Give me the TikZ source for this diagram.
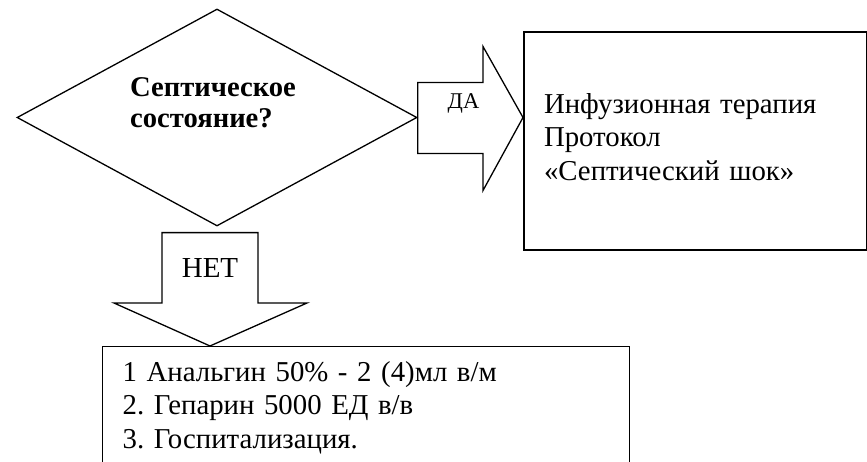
\documentclass[tikz,border=0pt]{standalone}
\usepackage{fontspec}
\setmainfont{Liberation Serif}
\frenchspacing
\usetikzlibrary{positioning}
\usetikzlibrary{shapes.geometric}
\usetikzlibrary{calc}

\begin{document}
\begin{tikzpicture}[x=1pt,y=-1pt,
	box/.style={draw, line width=1.3, anchor=north west, align=left, inner xsep=20, font=\fontsize{28.8}{33.5}\selectfont},
	blockarrow/.style={draw, line width=1.3, line join=miter}]
	\useasboundingbox (0,0) rectangle (867,462);
	% Question %
	\node (q) [draw, diamond, line width=1.3, minimum width=400, minimum height=217] at (217,117.5) {};
	\node (qtext) [anchor=north west, align=left, inner sep=0, font=\bfseries\fontsize{28.6}{31}\selectfont] at (130,77.5) {Септическое\\состояние?};
	% Protocol Box %
	\node (info) [box, line width=2, minimum width=343, minimum height=218, text width=303, text depth=75.7] at (523,31) {Инфузионная терапия\\Протокол\\«Септический шок»};
	% Treatment Box %
	\node (todo) [box, minimum width=527, minimum height=121.5, text width=487] at (102,346) {1 Анальгин 50\% - 2 (4)мл в/м\\2. Гепарин 5000 ЕД в/в\\3. Госпитализация.};
	% Yes Arrow %
	\coordinate (tipyes) at (info.west |- q.east);
	\draw [blockarrow] ($(q.east)+(0,-35)$) -- ($(tipyes)+(-40,-35)$) -- ($(tipyes)+(-40,-71)$) -- (tipyes) -- ($(tipyes)+(-40,73)$) -- ($(tipyes)+(-40,36)$) -- ($(q.east)+(0,36)$) -- cycle;
	\node (yes) [anchor=base, font=\fontsize{22.5}{22.5}\selectfont] at (463.5,109) {ДА};
	% No Arrow %
	\coordinate (nofrom) at ($(q.south)+(-7,6)$);
	\coordinate (tipno) at (nofrom |- todo.north);
	\draw [blockarrow] ($(nofrom)+(-48,0)$) -- ($(tipno)+(-48,-43)$) -- ($(tipno)+(-96,-43)$) -- (tipno) -- ($(tipno)+(97,-43)$) -- ($(tipno)+(48,-43)$) -- ($(nofrom)+(48,0)$) -- cycle;
	\node (no) [anchor=base, font=\fontsize{29}{29}\selectfont] at (210,278) {НЕТ};
\end{tikzpicture}
\end{document}
